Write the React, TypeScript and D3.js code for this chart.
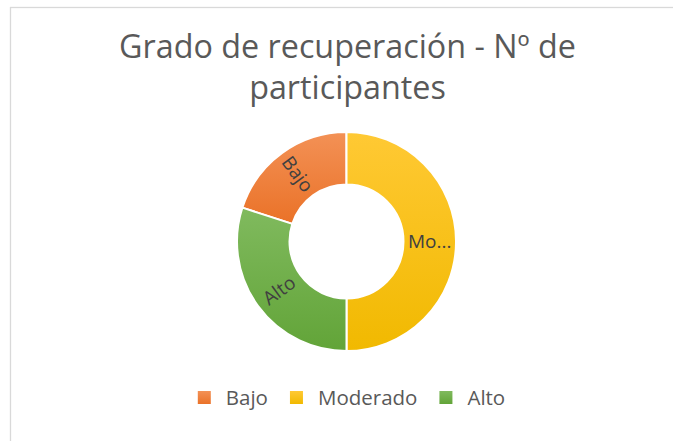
import { useEffect, useRef } from 'react';
import * as d3 from 'd3';

const categories = ['Bajo', 'Moderado', 'Alto'];
const participantes = [4, 10, 6];
const titleLines = ['Grado de recuperación - Nº de', 'participantes'];

// light top -> darker bottom, like the Excel style
const colorStops = [
  ['#F39156', '#EA7228'],
  ['#FFC934', '#F1B900'],
  ['#80BA5E', '#62A438'],
];

const App = () => {
  const svgRef = useRef<SVGSVGElement | null>(null);

  useEffect(() => {
    const width = 673;
    const height = 441;
    const cx = 346.5;
    const cy = 241.5;
    const outerR = 109.5;
    const innerR = 57;
    const font = '"Open Sans", sans-serif';

    const svg = d3.select(svgRef.current);
    svg.selectAll('*').remove();

    svg.append('rect')
      .attr('width', width)
      .attr('height', height)
      .attr('fill', '#fff');

    // chart area border
    svg.append('rect')
      .attr('x', 10.5)
      .attr('y', 7.5)
      .attr('width', 700)
      .attr('height', 500)
      .attr('fill', 'none')
      .attr('stroke', '#D9D9D9')
      .attr('stroke-width', 1.3);

    const defs = svg.append('defs');
    colorStops.forEach((c, i) => {
      const g = defs.append('linearGradient')
        .attr('id', `grad${i}`)
        .attr('x1', 0).attr('y1', 0)
        .attr('x2', 0).attr('y2', 1);
      g.append('stop').attr('offset', '0%').attr('stop-color', c[0]);
      g.append('stop').attr('offset', '100%').attr('stop-color', c[1]);
    });

    svg.append('g')
      .selectAll('text')
      .data(titleLines)
      .enter()
      .append('text')
      .attr('x', cx + 1)
      .attr('y', (d, i) => 58 + i * 41)
      .attr('text-anchor', 'middle')
      .attr('font-family', font)
      .attr('font-size', 32.3)
      .attr('fill', '#595959')
      .text(d => d);

    const start = -72 * Math.PI / 180;
    const pie = d3.pie<number>()
      .sort(null)
      .startAngle(start)
      .endAngle(start + 2 * Math.PI);
    const arcs = pie(participantes);

    const arc = d3.arc<d3.PieArcDatum<number>>()
      .innerRadius(innerR)
      .outerRadius(outerR);

    const g = svg.append('g').attr('transform', `translate(${cx},${cy})`);

    g.selectAll('path')
      .data(arcs)
      .enter()
      .append('path')
      .attr('d', arc)
      .attr('fill', (d, i) => `url(#grad${i})`)
      .attr('stroke', '#fff')
      .attr('stroke-width', 2);

    // labels run along the radius, shortened when they do not fit the ring
    const room = outerR - innerR - 4;
    arcs.forEach((d, i) => {
      const mid = (d.startAngle + d.endAngle) / 2;
      const deg = (mid * 180 / Math.PI + 360) % 360;
      const rot = deg > 180 ? deg - 270 : deg - 90;
      const [lx, ly] = arc.centroid(d);
      const t = g.append('text')
        .attr('transform', `translate(${lx},${ly}) rotate(${rot})`)
        .attr('text-anchor', 'middle')
        .attr('dy', '0.35em')
        .attr('font-family', font)
        .attr('font-size', 19)
        .attr('fill', '#404040')
        .text(categories[i]);
      const node = t.node() as SVGTextElement;
      let n = categories[i].length;
      while (node.getComputedTextLength() > room && n > 1) {
        n--;
        t.text(categories[i].slice(0, n) + '...');
      }
    });

    // legend
    const legend = svg.append('g');
    const sq = 13;
    let x = 0;
    categories.forEach((c, i) => {
      legend.append('rect')
        .attr('x', x)
        .attr('y', 391)
        .attr('width', sq)
        .attr('height', sq)
        .attr('fill', `url(#grad${i})`);
      const t = legend.append('text')
        .attr('x', x + sq + 15)
        .attr('y', 405)
        .attr('font-family', font)
        .attr('font-size', 20.5)
        .attr('fill', '#595959')
        .text(c);
      x += sq + 15 + (t.node() as SVGTextElement).getComputedTextLength() + 22;
    });
    const legendW = x - 22;
    legend.attr('transform', `translate(${cx + 5 - legendW / 2},0)`);
  }, []);

  return (
    <svg
      ref={svgRef}
      width={673}
      height={441}
      style={{ position: 'absolute', left: 0, top: 0 }}
    ></svg>
  );
};

export default App;
